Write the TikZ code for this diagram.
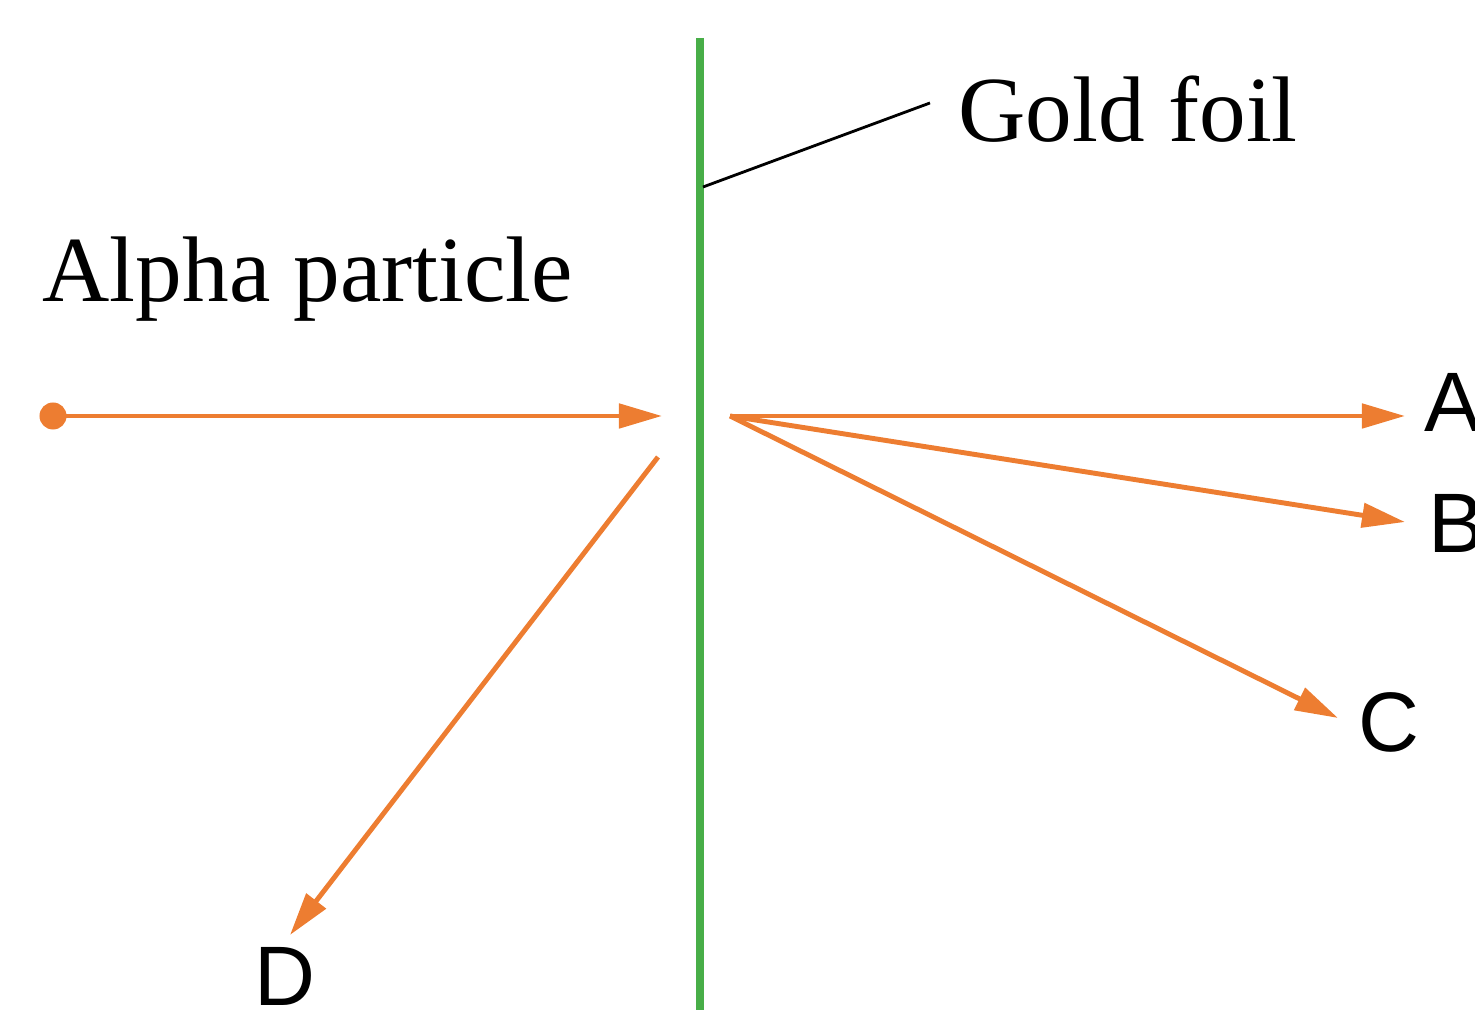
\documentclass[tikz,border=0pt]{standalone}
\usepackage{fontspec}
\setmainfont{Liberation Serif}
\setsansfont{Liberation Sans}
\usepackage{tikz}
\usetikzlibrary{positioning,arrows.meta}
\definecolor{rayorange}{RGB}{237,125,49}
\definecolor{foilgreen}{RGB}{72,174,72}

\begin{document}
\begin{tikzpicture}[
  x=0.01cm, y=-0.01cm,
  ray/.style={-{Triangle[length=4.3mm, width=2.4mm]}, rayorange, line width=1.4pt},
  txt/.style={font=\fontsize{26.5}{30}\selectfont, inner sep=0pt, anchor=base west},
  lbl/.style={font=\sffamily\fontsize{24}{28}\selectfont, inner sep=0pt, anchor=base west}
]
\useasboundingbox (0,0) rectangle (1475,1010);
% ----- foil -----
\coordinate (foiltop) at (700,38);
\coordinate (foilbot) at (700,1010);
\draw[foilgreen, line width=2.4pt] (foiltop) -- (foilbot);
\node[txt] (gold) at (958,142) {Gold foil};
\coordinate (touch) at (703,187);
\draw[black, line width=0.8pt] (touch) -- ([xshift=-2.8mm, yshift=3.9mm]gold.base west);
% ----- incoming -----
\node[txt] (alphatxt) at (42,302) {Alpha particle};
\node[circle, fill=rayorange, inner sep=0pt, minimum size=2.7mm] (alpha) at (53,416) {};
\coordinate (front) at (662,416);
\draw[ray] (alpha.center) -- (front);
% ----- scattered rays -----
\coordinate (back) at (730,416);
\coordinate (tipA) at (1405,416);
\coordinate (tipB) at (1405,522);
\coordinate (tipC) at (1338,718);
\coordinate (start) at (658,457);
\coordinate (tipD) at (290,935);
\foreach \t in {tipA, tipB, tipC}{\draw[ray] (back) -- (\t);}
\draw[ray] (start) -- (tipD);
% ----- labels -----
\node[lbl] (A) at (1424,432) {A};
\node[lbl] (B) at (1428,553) {B};
\node[lbl] (C) at (1358,752) {C};
\node[lbl] (D) at (254,1006) {D};
\end{tikzpicture}
\end{document}
